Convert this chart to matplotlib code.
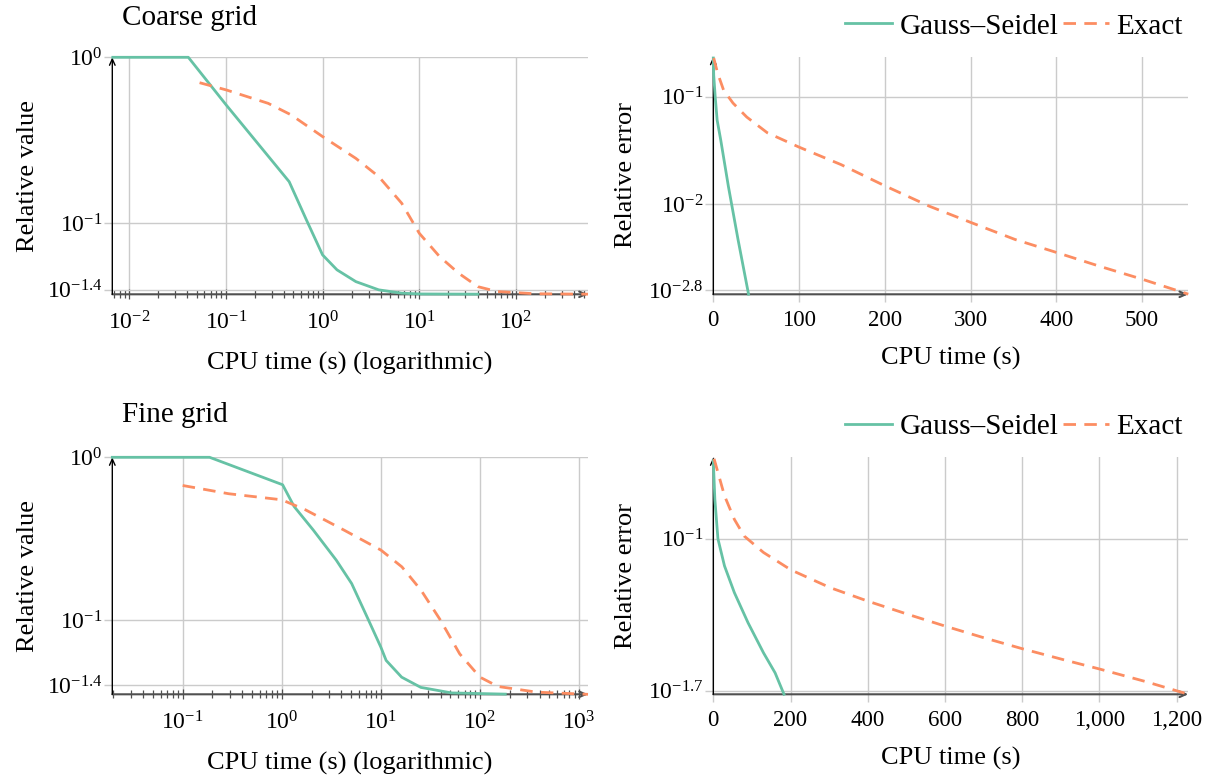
import numpy as np
import matplotlib.pyplot as plt
from matplotlib.ticker import LogLocator, NullFormatter, NullLocator

plt.rcParams['font.family'] = ['Liberation Serif', 'DejaVu Serif']
plt.rcParams['mathtext.fontset'] = 'custom'
plt.rcParams['mathtext.rm'] = 'Liberation Serif'
plt.rcParams['mathtext.it'] = 'Liberation Serif:italic'
plt.rcParams['mathtext.bf'] = 'Liberation Serif:bold'

GREEN = '#66c2a5'
ORANGE = '#fc8d62'
GRID = '#cbcbcb'
AXC = '#505050'

# Coarse grid, relative value vs CPU time (log)
coarse_gs_t = [0.0068, 0.041, 0.101, 0.452, 0.68, 1.0, 1.41, 2.21, 3.81, 6.58, 10.4, 40.3]
coarse_gs_v = [1.0, 1.0, 0.516, 0.178, 0.105, 0.0645, 0.0524, 0.0445, 0.0397, 0.0379, 0.0375, 0.0374]
coarse_ex_t = [0.0536, 0.101, 0.274, 0.473, 1.0, 2.21, 3.81, 6.58, 10, 16.2, 25.5, 40.3, 63.7, 157, 554]
coarse_ex_v = [0.703, 0.636, 0.528, 0.45, 0.333, 0.246, 0.191, 0.132, 0.087, 0.063, 0.050, 0.0415,
               0.0388, 0.0376, 0.0374]

# Coarse grid, relative error vs CPU time
coarse_gs_err_t = [0, 0.5, 2.2, 4.5, 8.6, 17.6, 28.9, 41.1]
coarse_gs_err = [0.229, 0.158, 0.100, 0.0603, 0.0398, 0.0146, 0.00465, 0.00145]
coarse_ex_err_t = [0.5, 5, 12, 23, 39, 63, 100, 149, 200, 252, 300, 352, 400, 451, 500, 554]
coarse_ex_err = [0.229, 0.166, 0.115, 0.0871, 0.0646, 0.0461, 0.0339, 0.0233, 0.0148, 0.00955,
                 0.00676, 0.00468, 0.00355, 0.00263, 0.00200, 0.00145]

# Fine grid, relative value vs CPU time (log)
fine_gs_t = [0.0195, 0.187, 1.02, 1.33, 2.08, 3.55, 5.07, 7.25, 10, 11.3, 16.2, 25.3, 51.7, 180]
fine_gs_v = [1.0, 1.0, 0.678, 0.499, 0.357, 0.233, 0.1675, 0.1045, 0.068, 0.0564, 0.0445, 0.0385,
             0.0356, 0.0350]
fine_ex_t = [0.1, 0.292, 1.0, 1.74, 4.24, 10, 16.3, 25.5, 40, 62.4, 100, 152, 372, 1230]
fine_ex_v = [0.671, 0.597, 0.548, 0.475, 0.357, 0.269, 0.212, 0.152, 0.0995, 0.0619, 0.0445, 0.039,
             0.036, 0.0349]

# Fine grid, relative error vs CPU time
fine_gs_err_t = [0, 4, 12, 29, 54.5, 90, 130, 160, 183]
fine_gs_err = [0.2296, 0.1524, 0.1, 0.075, 0.0565, 0.041, 0.0298, 0.0241, 0.0192]
fine_ex_err_t = [2, 29, 54.5, 80, 130, 201, 302, 400, 503, 600, 700, 801, 907, 1000, 1118, 1230]
fine_ex_err = [0.234, 0.158, 0.123, 0.103, 0.0865, 0.0719, 0.0596, 0.0516, 0.0449, 0.0396, 0.035,
               0.0311, 0.0277, 0.0251, 0.022, 0.0192]

W, H = 1208, 778
fig = plt.figure(figsize=(W / 100, H / 100), dpi=100)


def add_ax(l, r, t, b):
    return fig.add_axes([l / W, 1 - b / H, (r - l) / W, (b - t) / H])


def style(ax):
    for s in ax.spines.values():
        s.set_visible(False)
    ax.annotate('', xy=(1, 0), xytext=(0, 0), xycoords='axes fraction',
                arrowprops=dict(arrowstyle='->,head_length=0.45,head_width=0.2', color=AXC, lw=1.5,
                                shrinkA=0, shrinkB=0))
    ax.annotate('', xy=(0, 1), xytext=(0, 0), xycoords='axes fraction',
                arrowprops=dict(arrowstyle='->,head_length=0.45,head_width=0.2', color='black', lw=1.0,
                                shrinkA=0, shrinkB=0))
    ax.grid(True, which='major', color=GRID, lw=1)
    ax.set_axisbelow(True)
    ax.tick_params(axis='y', which='major', direction='out', length=6, color=GRID, width=1,
                   labelsize=17, pad=1)


def logx(ax, ticks, labels, xlim):
    ax.set_xscale('log')
    ax.set_xlim(*xlim)
    ax.set_xticks(ticks, labels)
    ax.xaxis.set_minor_locator(LogLocator(base=10, subs=np.arange(2, 10), numticks=20))
    ax.xaxis.set_minor_formatter(NullFormatter())
    ax.tick_params(axis='x', which='major', direction='inout', length=7, color=AXC, width=0.9,
                   labelsize=17, pad=9)
    ax.tick_params(axis='x', which='minor', direction='inout', length=6, color=AXC, width=0.9)
    ax.set_xlabel('CPU time (s) (logarithmic)', fontsize=19, labelpad=12)
    ax.set_ylabel('Relative value', fontsize=19, labelpad=6)


def linx(ax, ticks, labels, xlim):
    ax.set_xlim(*xlim)
    ax.set_xticks(ticks, labels)
    ax.tick_params(axis='x', which='major', direction='out', length=6, color=GRID, width=1,
                   labelsize=16.5, pad=5)
    ax.set_xlabel('CPU time (s)', fontsize=19, labelpad=12)
    ax.set_ylabel('Relative error', fontsize=19, labelpad=8)


def lines(ax, gt, gv, et, ev):
    ax.plot(gt, gv, color=GREEN, lw=2.0, label='Gauss\u2013Seidel', clip_on=False, zorder=3)
    ax.plot(et, ev, color=ORANGE, lw=2.0, dashes=(4.5, 3), label='Exact', clip_on=False, zorder=3)


def logy(ax, lim, ticks, labels):
    ax.set_yscale('log')
    ax.set_ylim(*lim)
    ax.set_yticks(ticks, labels)
    ax.yaxis.set_minor_locator(NullLocator())


# top left
ax1 = add_ax(112.3, 588, 57.3, 294.3)
style(ax1)
lines(ax1, coarse_gs_t, coarse_gs_v, coarse_ex_t, coarse_ex_v)
logy(ax1, (10 ** -1.428, 1.0), [1.0, 0.1, 10 ** -1.4], [r'$10^{0}$', r'$10^{-1}$', r'$10^{-1.4}$'])
logx(ax1, [1e-2, 1e-1, 1e0, 1e1, 1e2],
     [r'$10^{-2}$', r'$10^{-1}$', r'$10^{0}$', r'$10^{1}$', r'$10^{2}$'], (10 ** -2.173, 554))

# top right
ax2 = add_ax(713.3, 1188.3, 56.7, 294.3)
style(ax2)
lines(ax2, coarse_gs_err_t, coarse_gs_err, coarse_ex_err_t, coarse_ex_err)
logy(ax2, (10 ** -2.84, 10 ** -0.628), [0.1, 0.01, 10 ** -2.8],
     [r'$10^{-1}$', r'$10^{-2}$', r'$10^{-2.8}$'])
linx(ax2, [0, 100, 200, 300, 400, 500], ['0', '100', '200', '300', '400', '500'], (0, 554))

# bottom left
ax3 = add_ax(112.3, 588, 457.3, 694.3)
style(ax3)
lines(ax3, fine_gs_t, fine_gs_v, fine_ex_t, fine_ex_v)
logy(ax3, (10 ** -1.457, 1.0), [1.0, 0.1, 10 ** -1.4], [r'$10^{0}$', r'$10^{-1}$', r'$10^{-1.4}$'])
logx(ax3, [1e-1, 1e0, 1e1, 1e2, 1e3],
     [r'$10^{-1}$', r'$10^{0}$', r'$10^{1}$', r'$10^{2}$', r'$10^{3}$'], (10 ** -1.71, 1230))

# bottom right
ax4 = add_ax(713.3, 1188.3, 457.3, 694.3)
style(ax4)
lines(ax4, fine_gs_err_t, fine_gs_err, fine_ex_err_t, fine_ex_err)
logy(ax4, (10 ** -1.717, 10 ** -0.624), [0.1, 10 ** -1.7], [r'$10^{-1}$', r'$10^{-1.7}$'])
linx(ax4, [0, 200, 400, 600, 800, 1000, 1200],
     [f'{v:,}' for v in [0, 200, 400, 600, 800, 1000, 1200]], (0, 1230))

for ax in (ax2, ax4):
    ax.legend(loc='lower right', bbox_to_anchor=(0.995, 1.06), ncol=2, frameon=False, fontsize=21,
              handlelength=1.6, handletextpad=0.25, columnspacing=0.15, borderaxespad=0, borderpad=0.1)

fig.text(122 / W, 1 - 18 / H, 'Coarse grid', fontsize=21, ha='left', va='center')
fig.text(122 / W, 1 - 415 / H, 'Fine grid', fontsize=21, ha='left', va='center')

fig.savefig('out.png', dpi=100)
